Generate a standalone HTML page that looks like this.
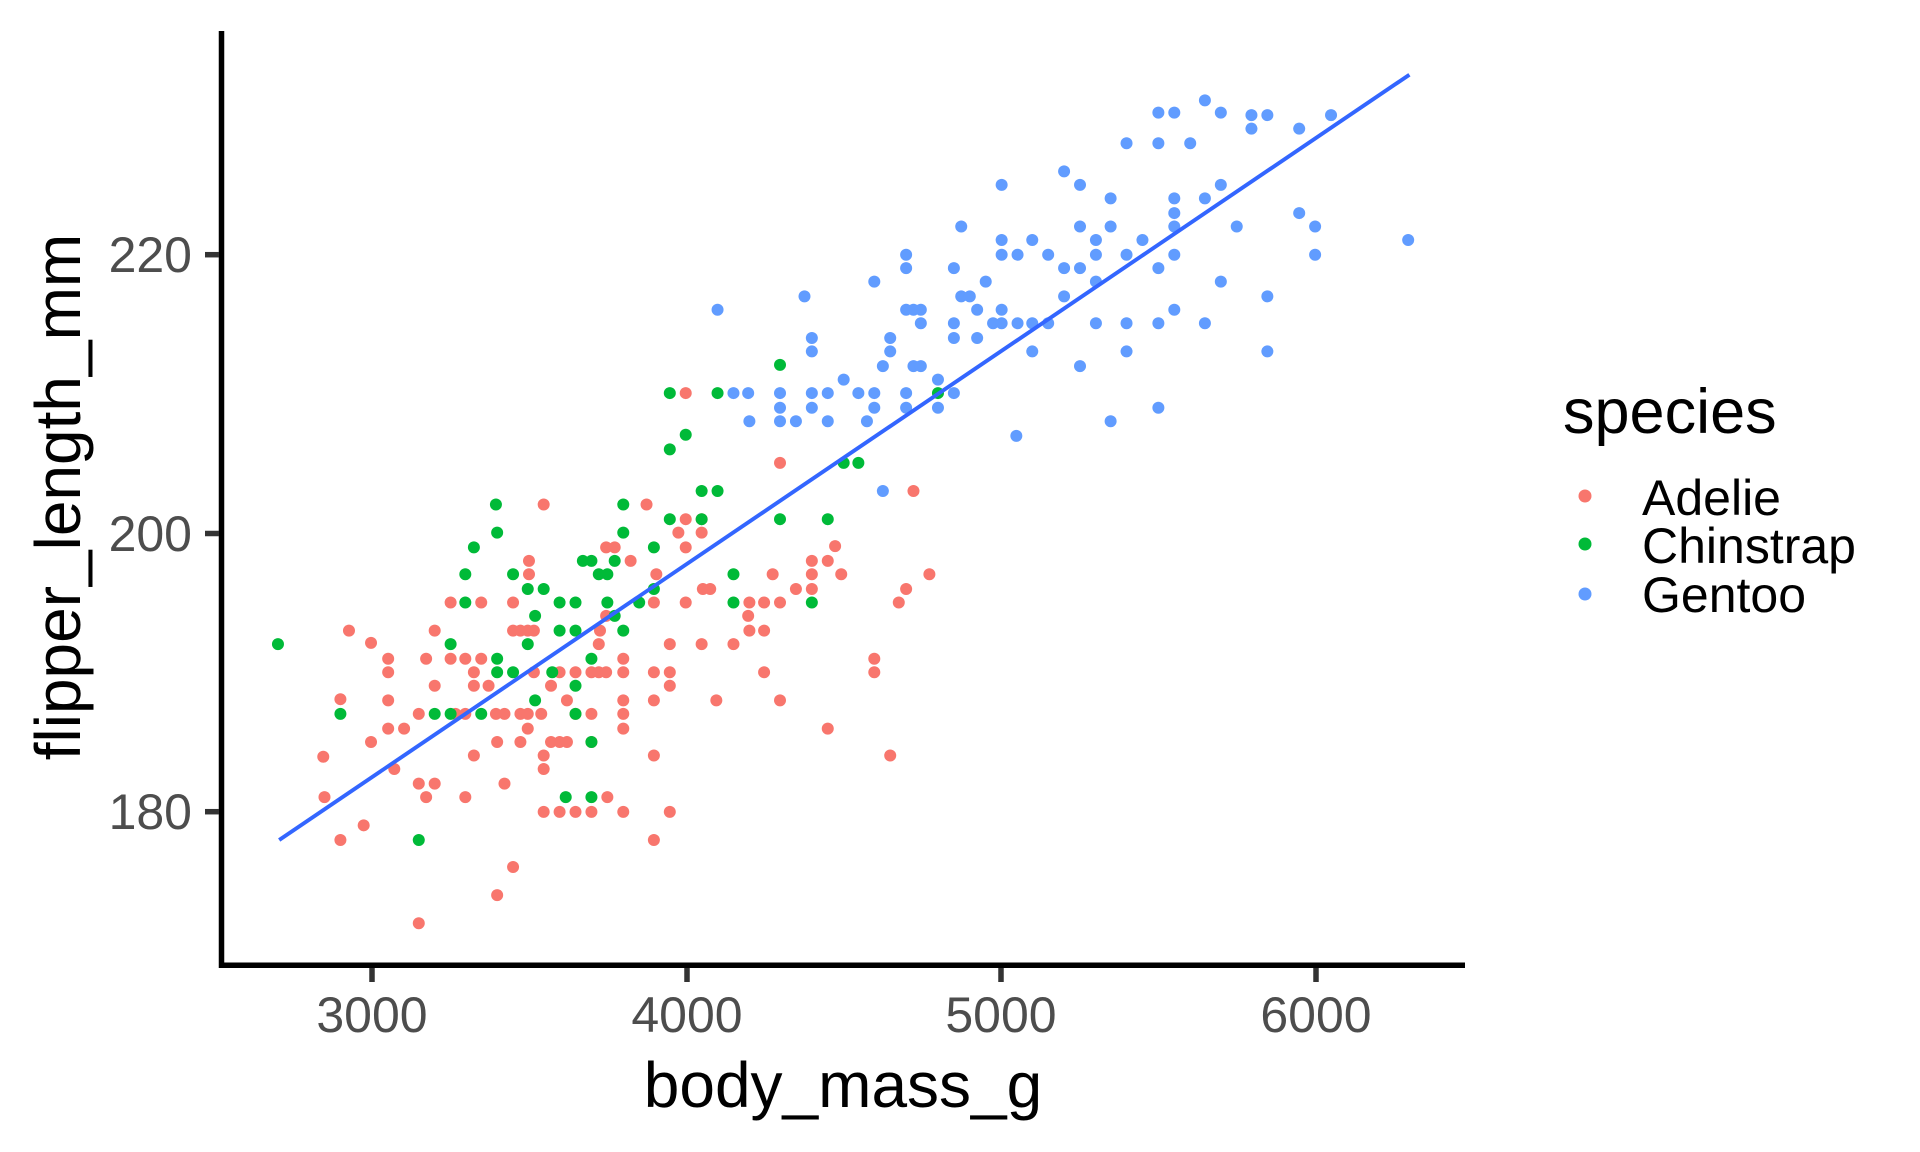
<!DOCTYPE html>
<html><head><meta charset="utf-8"><style>html,body{margin:0;padding:0;background:#fff}svg{display:block}text{font-family:"Liberation Sans",Arial,sans-serif}</style></head>
<body>
<svg width="1920" height="1152" viewBox="0 0 1920 1152" xmlns="http://www.w3.org/2000/svg">
<rect width="1920" height="1152" fill="#fff"/>
<g transform="scale(1.2245)">
<g fill="#F8766D">
<circle cx="264" cy="618" r="4.9"/><circle cx="265" cy="651" r="4.9"/><circle cx="285" cy="515" r="4.9"/><circle cx="278" cy="571" r="4.9"/><circle cx="278" cy="686" r="4.9"/><circle cx="297" cy="674" r="4.9"/><circle cx="303" cy="525" r="4.9"/><circle cx="303" cy="606" r="4.9"/><circle cx="317" cy="538" r="4.9"/><circle cx="317" cy="549" r="4.9"/><circle cx="317" cy="572" r="4.9"/><circle cx="317" cy="595" r="4.9"/><circle cx="322" cy="628" r="4.9"/><circle cx="330" cy="595" r="4.9"/><circle cx="342" cy="583" r="4.9"/><circle cx="342" cy="640" r="4.9"/><circle cx="342" cy="754" r="4.9"/><circle cx="348" cy="651" r="4.9"/><circle cx="348" cy="538" r="4.9"/><circle cx="355" cy="515" r="4.9"/><circle cx="355" cy="560" r="4.9"/><circle cx="355" cy="640" r="4.9"/><circle cx="368" cy="492" r="4.9"/><circle cx="368" cy="538" r="4.9"/><circle cx="372" cy="583" r="4.9"/><circle cx="380" cy="538" r="4.9"/><circle cx="380" cy="583" r="4.9"/><circle cx="380" cy="651" r="4.9"/><circle cx="387" cy="549" r="4.9"/><circle cx="387" cy="560" r="4.9"/><circle cx="387" cy="617" r="4.9"/><circle cx="393" cy="538" r="4.9"/><circle cx="393" cy="492" r="4.9"/><circle cx="399" cy="560" r="4.9"/><circle cx="405" cy="583" r="4.9"/><circle cx="406" cy="606" r="4.9"/><circle cx="406" cy="731" r="4.9"/><circle cx="412" cy="640" r="4.9"/><circle cx="412" cy="583" r="4.9"/><circle cx="419" cy="708" r="4.9"/><circle cx="419" cy="492" r="4.9"/><circle cx="419" cy="515" r="4.9"/><circle cx="425" cy="606" r="4.9"/><circle cx="425" cy="515" r="4.9"/><circle cx="425" cy="583" r="4.9"/><circle cx="431" cy="515" r="4.9"/><circle cx="431" cy="583" r="4.9"/><circle cx="431" cy="595" r="4.9"/><circle cx="432" cy="469" r="4.9"/><circle cx="432" cy="458" r="4.9"/><circle cx="436" cy="515" r="4.9"/><circle cx="436" cy="549" r="4.9"/><circle cx="442" cy="583" r="4.9"/><circle cx="444" cy="412" r="4.9"/><circle cx="444" cy="617" r="4.9"/><circle cx="444" cy="628" r="4.9"/><circle cx="444" cy="663" r="4.9"/><circle cx="450" cy="560" r="4.9"/><circle cx="450" cy="606" r="4.9"/><circle cx="457" cy="549" r="4.9"/><circle cx="457" cy="606" r="4.9"/><circle cx="457" cy="663" r="4.9"/><circle cx="463" cy="572" r="4.9"/><circle cx="463" cy="606" r="4.9"/><circle cx="470" cy="549" r="4.9"/><circle cx="470" cy="583" r="4.9"/><circle cx="470" cy="663" r="4.9"/><circle cx="483" cy="549" r="4.9"/><circle cx="483" cy="583" r="4.9"/><circle cx="483" cy="606" r="4.9"/><circle cx="483" cy="663" r="4.9"/><circle cx="489" cy="526" r="4.9"/><circle cx="489" cy="549" r="4.9"/><circle cx="490" cy="515" r="4.9"/><circle cx="495" cy="447" r="4.9"/><circle cx="495" cy="503" r="4.9"/><circle cx="495" cy="549" r="4.9"/><circle cx="496" cy="651" r="4.9"/><circle cx="502" cy="447" r="4.9"/><circle cx="509" cy="538" r="4.9"/><circle cx="509" cy="549" r="4.9"/><circle cx="509" cy="572" r="4.9"/><circle cx="509" cy="583" r="4.9"/><circle cx="509" cy="595" r="4.9"/><circle cx="509" cy="663" r="4.9"/><circle cx="515" cy="458" r="4.9"/><circle cx="528" cy="412" r="4.9"/><circle cx="534" cy="572" r="4.9"/><circle cx="534" cy="549" r="4.9"/><circle cx="534" cy="492" r="4.9"/><circle cx="534" cy="617" r="4.9"/><circle cx="534" cy="686" r="4.9"/><circle cx="547" cy="526" r="4.9"/><circle cx="547" cy="549" r="4.9"/><circle cx="547" cy="560" r="4.9"/><circle cx="547" cy="663" r="4.9"/><circle cx="554" cy="435" r="4.9"/><circle cx="560" cy="447" r="4.9"/><circle cx="560" cy="321" r="4.9"/><circle cx="560" cy="492" r="4.9"/><circle cx="560" cy="424" r="4.9"/><circle cx="573" cy="424" r="4.9"/><circle cx="573" cy="435" r="4.9"/><circle cx="573" cy="526" r="4.9"/><circle cx="580" cy="481" r="4.9"/><circle cx="585" cy="572" r="4.9"/><circle cx="599" cy="526" r="4.9"/><circle cx="611" cy="503" r="4.9"/><circle cx="612" cy="515" r="4.9"/><circle cx="612" cy="492" r="4.9"/><circle cx="624" cy="549" r="4.9"/><circle cx="624" cy="515" r="4.9"/><circle cx="624" cy="492" r="4.9"/><circle cx="631" cy="469" r="4.9"/><circle cx="637" cy="492" r="4.9"/><circle cx="637" cy="378" r="4.9"/><circle cx="637" cy="572" r="4.9"/><circle cx="650" cy="481" r="4.9"/><circle cx="663" cy="481" r="4.9"/><circle cx="663" cy="458" r="4.9"/><circle cx="663" cy="469" r="4.9"/><circle cx="676" cy="595" r="4.9"/><circle cx="676" cy="458" r="4.9"/><circle cx="682" cy="446" r="4.9"/><circle cx="687" cy="469" r="4.9"/><circle cx="714" cy="538" r="4.9"/><circle cx="714" cy="549" r="4.9"/><circle cx="727" cy="617" r="4.9"/><circle cx="734" cy="492" r="4.9"/><circle cx="740" cy="481" r="4.9"/><circle cx="746" cy="401" r="4.9"/><circle cx="759" cy="469" r="4.9"/><circle cx="574" cy="481" r="4.9"/><circle cx="536" cy="469" r="4.9"/>
</g>
<g fill="#00BA38">
<circle cx="227" cy="526" r="4.9"/><circle cx="278" cy="583" r="4.9"/><circle cx="355" cy="583" r="4.9"/><circle cx="368" cy="526" r="4.9"/><circle cx="368" cy="583" r="4.9"/><circle cx="380" cy="469" r="4.9"/><circle cx="380" cy="492" r="4.9"/><circle cx="387" cy="447" r="4.9"/><circle cx="393" cy="583" r="4.9"/><circle cx="405" cy="412" r="4.9"/><circle cx="406" cy="435" r="4.9"/><circle cx="406" cy="538" r="4.9"/><circle cx="406" cy="549" r="4.9"/><circle cx="419" cy="469" r="4.9"/><circle cx="419" cy="549" r="4.9"/><circle cx="431" cy="481" r="4.9"/><circle cx="431" cy="526" r="4.9"/><circle cx="437" cy="572" r="4.9"/><circle cx="437" cy="503" r="4.9"/><circle cx="444" cy="481" r="4.9"/><circle cx="451" cy="549" r="4.9"/><circle cx="457" cy="492" r="4.9"/><circle cx="457" cy="515" r="4.9"/><circle cx="462" cy="651" r="4.9"/><circle cx="470" cy="515" r="4.9"/><circle cx="470" cy="560" r="4.9"/><circle cx="470" cy="583" r="4.9"/><circle cx="470" cy="492" r="4.9"/><circle cx="476" cy="458" r="4.9"/><circle cx="483" cy="458" r="4.9"/><circle cx="483" cy="538" r="4.9"/><circle cx="483" cy="606" r="4.9"/><circle cx="483" cy="651" r="4.9"/><circle cx="489" cy="469" r="4.9"/><circle cx="496" cy="469" r="4.9"/><circle cx="496" cy="492" r="4.9"/><circle cx="502" cy="458" r="4.9"/><circle cx="502" cy="503" r="4.9"/><circle cx="509" cy="515" r="4.9"/><circle cx="509" cy="412" r="4.9"/><circle cx="509" cy="435" r="4.9"/><circle cx="522" cy="492" r="4.9"/><circle cx="534" cy="447" r="4.9"/><circle cx="534" cy="481" r="4.9"/><circle cx="547" cy="321" r="4.9"/><circle cx="547" cy="367" r="4.9"/><circle cx="547" cy="424" r="4.9"/><circle cx="560" cy="355" r="4.9"/><circle cx="573" cy="401" r="4.9"/><circle cx="573" cy="424" r="4.9"/><circle cx="586" cy="321" r="4.9"/><circle cx="586" cy="401" r="4.9"/><circle cx="599" cy="469" r="4.9"/><circle cx="599" cy="492" r="4.9"/><circle cx="637" cy="298" r="4.9"/><circle cx="637" cy="424" r="4.9"/><circle cx="663" cy="492" r="4.9"/><circle cx="676" cy="424" r="4.9"/><circle cx="689" cy="378" r="4.9"/><circle cx="701" cy="378" r="4.9"/><circle cx="766" cy="321" r="4.9"/><circle cx="342" cy="686" r="4.9"/>
</g>
<g fill="#619CFF">
<circle cx="586" cy="253" r="4.9"/><circle cx="599" cy="321" r="4.9"/><circle cx="611" cy="321" r="4.9"/><circle cx="612" cy="344" r="4.9"/><circle cx="637" cy="321" r="4.9"/><circle cx="637" cy="333" r="4.9"/><circle cx="637" cy="344" r="4.9"/><circle cx="650" cy="344" r="4.9"/><circle cx="663" cy="276" r="4.9"/><circle cx="663" cy="287" r="4.9"/><circle cx="663" cy="321" r="4.9"/><circle cx="663" cy="333" r="4.9"/><circle cx="676" cy="321" r="4.9"/><circle cx="676" cy="344" r="4.9"/><circle cx="657" cy="242" r="4.9"/><circle cx="689" cy="310" r="4.9"/><circle cx="701" cy="321" r="4.9"/><circle cx="714" cy="321" r="4.9"/><circle cx="714" cy="333" r="4.9"/><circle cx="714" cy="230" r="4.9"/><circle cx="708" cy="344" r="4.9"/><circle cx="721" cy="401" r="4.9"/><circle cx="721" cy="299" r="4.9"/><circle cx="727" cy="276" r="4.9"/><circle cx="727" cy="287" r="4.9"/><circle cx="740" cy="208" r="4.9"/><circle cx="740" cy="219" r="4.9"/><circle cx="740" cy="253" r="4.9"/><circle cx="740" cy="321" r="4.9"/><circle cx="740" cy="333" r="4.9"/><circle cx="746" cy="253" r="4.9"/><circle cx="746" cy="299" r="4.9"/><circle cx="752" cy="253" r="4.9"/><circle cx="752" cy="264" r="4.9"/><circle cx="752" cy="299" r="4.9"/><circle cx="766" cy="310" r="4.9"/><circle cx="766" cy="333" r="4.9"/><circle cx="779" cy="219" r="4.9"/><circle cx="779" cy="264" r="4.9"/><circle cx="779" cy="276" r="4.9"/><circle cx="779" cy="321" r="4.9"/><circle cx="785" cy="185" r="4.9"/><circle cx="785" cy="242" r="4.9"/><circle cx="792" cy="242" r="4.9"/><circle cx="798" cy="253" r="4.9"/><circle cx="798" cy="276" r="4.9"/><circle cx="805" cy="230" r="4.9"/><circle cx="811" cy="264" r="4.9"/><circle cx="818" cy="264" r="4.9"/><circle cx="818" cy="253" r="4.9"/><circle cx="818" cy="151" r="4.9"/><circle cx="818" cy="196" r="4.9"/><circle cx="818" cy="208" r="4.9"/><circle cx="831" cy="208" r="4.9"/><circle cx="831" cy="264" r="4.9"/><circle cx="830" cy="356" r="4.9"/><circle cx="843" cy="196" r="4.9"/><circle cx="843" cy="264" r="4.9"/><circle cx="843" cy="287" r="4.9"/><circle cx="856" cy="208" r="4.9"/><circle cx="856" cy="264" r="4.9"/><circle cx="869" cy="242" r="4.9"/><circle cx="869" cy="219" r="4.9"/><circle cx="869" cy="140" r="4.9"/><circle cx="882" cy="219" r="4.9"/><circle cx="882" cy="151" r="4.9"/><circle cx="882" cy="185" r="4.9"/><circle cx="882" cy="299" r="4.9"/><circle cx="895" cy="208" r="4.9"/><circle cx="895" cy="196" r="4.9"/><circle cx="895" cy="230" r="4.9"/><circle cx="895" cy="264" r="4.9"/><circle cx="907" cy="344" r="4.9"/><circle cx="907" cy="162" r="4.9"/><circle cx="907" cy="185" r="4.9"/><circle cx="920" cy="117" r="4.9"/><circle cx="920" cy="208" r="4.9"/><circle cx="920" cy="264" r="4.9"/><circle cx="920" cy="287" r="4.9"/><circle cx="933" cy="196" r="4.9"/><circle cx="946" cy="333" r="4.9"/><circle cx="946" cy="92" r="4.9"/><circle cx="946" cy="117" r="4.9"/><circle cx="946" cy="219" r="4.9"/><circle cx="946" cy="264" r="4.9"/><circle cx="959" cy="92" r="4.9"/><circle cx="959" cy="162" r="4.9"/><circle cx="959" cy="174" r="4.9"/><circle cx="959" cy="185" r="4.9"/><circle cx="959" cy="208" r="4.9"/><circle cx="959" cy="253" r="4.9"/><circle cx="972" cy="117" r="4.9"/><circle cx="984" cy="82" r="4.9"/><circle cx="984" cy="162" r="4.9"/><circle cx="984" cy="264" r="4.9"/><circle cx="997" cy="92" r="4.9"/><circle cx="997" cy="151" r="4.9"/><circle cx="997" cy="230" r="4.9"/><circle cx="1010" cy="185" r="4.9"/><circle cx="1022" cy="94" r="4.9"/><circle cx="1022" cy="105" r="4.9"/><circle cx="1035" cy="94" r="4.9"/><circle cx="1035" cy="242" r="4.9"/><circle cx="1035" cy="287" r="4.9"/><circle cx="1061" cy="105" r="4.9"/><circle cx="1061" cy="174" r="4.9"/><circle cx="1074" cy="185" r="4.9"/><circle cx="1074" cy="208" r="4.9"/><circle cx="1087" cy="94" r="4.9"/><circle cx="1150" cy="196" r="4.9"/>
</g>
<line x1="228" y1="686" x2="1151" y2="61" stroke="#3366FF" stroke-width="3.2"/>
</g>
<line x1="221.5" y1="31" x2="221.5" y2="968" stroke="#000" stroke-width="5.5"/>
<line x1="219" y1="965.3" x2="1465" y2="965.3" stroke="#000" stroke-width="5.5"/>
<g stroke="#333" stroke-width="5.5">
<line x1="205" y1="254.7" x2="219" y2="254.7"/><line x1="205" y1="533.5" x2="219" y2="533.5"/><line x1="205" y1="811.7" x2="219" y2="811.7"/>
<line x1="372" y1="968" x2="372" y2="982"/><line x1="687" y1="968" x2="687" y2="982"/><line x1="1001" y1="968" x2="1001" y2="982"/><line x1="1316" y1="968" x2="1316" y2="982"/>
</g>
<g fill="#4D4D4D" font-size="50">
<text x="192" y="272" text-anchor="end">220</text>
<text x="192" y="551" text-anchor="end">200</text>
<text x="192" y="829" text-anchor="end">180</text>
<text x="372" y="1032" text-anchor="middle">3000</text>
<text x="687" y="1032" text-anchor="middle">4000</text>
<text x="1001" y="1032" text-anchor="middle">5000</text>
<text x="1316" y="1032" text-anchor="middle">6000</text>
</g>
<text x="843" y="1107" text-anchor="middle" font-size="64">body_mass_g</text>
<text transform="translate(80,497) rotate(-90)" text-anchor="middle" font-size="64">flipper_length_mm</text>
<text x="1563" y="433" font-size="63">species</text>
<circle cx="1585" cy="496" r="6.5" fill="#F8766D"/>
<circle cx="1585" cy="544" r="6.5" fill="#00BA38"/>
<circle cx="1585" cy="594" r="6.5" fill="#619CFF"/>
<g font-size="50">
<text x="1642" y="515">Adelie</text>
<text x="1642" y="563">Chinstrap</text>
<text x="1642" y="612">Gentoo</text>
</g>
</svg>
</body></html>
